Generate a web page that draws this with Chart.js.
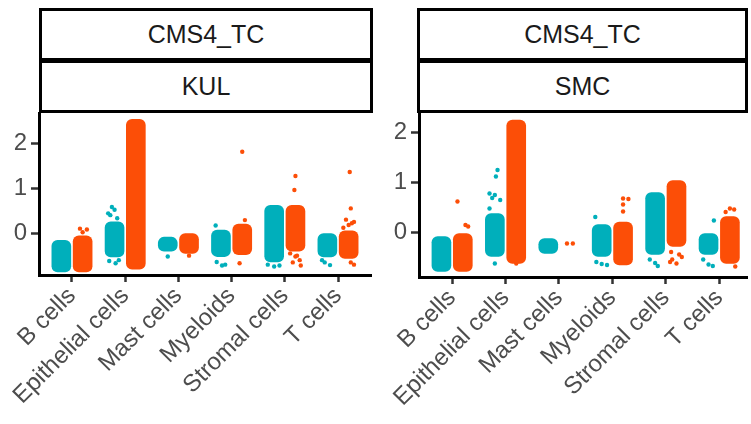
<!DOCTYPE html>
<html>
<head>
<meta charset="utf-8">
<script src="https://cdn.jsdelivr.net/npm/chart.js@4"></script>
<style>
  body { margin: 0; background: #fff; }
  #wrap { position: relative; width: 751px; height: 424px; overflow: hidden; }
  .panel { position: absolute; top: 0; height: 424px; }
  .strip {
    position: absolute; box-sizing: border-box; border: 3px solid #000; background: #fff;
    display: flex; align-items: center; justify-content: center;
    font-family: "Liberation Sans", Arial, sans-serif; font-size: 25px; color: #1a1a1a;
  }
</style>
</head>
<body>
<div id="wrap">
  <div class="panel" style="left:0;width:375px"><canvas id="kul" width="375" height="424"></canvas></div>
  <div class="panel" style="left:375px;width:376px"><canvas id="smc" width="376" height="424"></canvas></div>
  <div class="strip" style="left:39px;top:8px;width:334px;height:53px">CMS4_TC</div>
  <div class="strip" style="left:39px;top:60px;width:334px;height:53px">KUL</div>
  <div class="strip" style="left:417px;top:8px;width:331px;height:53px">CMS4_TC</div>
  <div class="strip" style="left:417px;top:60px;width:331px;height:53px">SMC</div>
</div>
<script>
const cellTypes = ['B cells', 'Epithelial cells', 'Mast cells', 'Myeloids', 'Stromal cells', 'T cells'];
const yTickValues = [0, 1, 2];

// dense part of each jitter cloud (low / high)
const kulTealLow    = [-0.86, -0.53, -0.40, -0.52, -0.64, -0.53];
const kulTealHigh   = [-0.16,  0.25, -0.09,  0.07,  0.62,  0.00];
const kulOrangeLow  = [-0.86, -0.80, -0.45, -0.48, -0.40, -0.56];
const kulOrangeHigh = [-0.06,  2.53,  0.00,  0.20,  0.62,  0.05];

const smcTealLow    = [-0.79, -0.49, -0.43, -0.49, -0.45, -0.45];
const smcTealHigh   = [-0.09,  0.37, -0.13,  0.15,  0.79, -0.03];
const smcOrangeLow  = [-0.79, -0.63,  null, -0.66, -0.29, -0.63];
const smcOrangeHigh = [-0.03,  2.24,  null,  0.20,  1.03,  0.31];

// scattered points outside the dense part: [category, jitter, value]
const kulTealOut = [
  [1, -0.05, 0.58], [1, 0.00, 0.52], [1, -0.12, 0.44], [1, -0.08, 0.40], [1, 0.05, 0.33],
  [1, -0.10, -0.62], [1, 0.02, -0.67], [1, 0.08, -0.60],
  [2, 0.00, -0.52],
  [3, -0.10, 0.17], [3, -0.08, -0.64], [3, 0.02, -0.72], [3, 0.08, -0.70],
  [4, -0.12, -0.70], [4, 0.00, -0.74], [4, 0.10, -0.72],
  [5, -0.05, -0.65], [5, 0.05, -0.71], [5, -0.10, -0.60]
];
const kulOrangeOut = [
  [0, -0.05, 0.10], [0, 0.08, 0.08], [0, 0.00, 0.02],
  [2, 0.00, -0.50],
  [3, 0.00, 1.81], [3, 0.05, 0.29], [3, -0.05, -0.67],
  [4, 0.00, 1.27], [4, -0.02, 0.96], [4, -0.10, -0.45], [4, 0.00, -0.52], [4, 0.08, -0.60],
  [4, -0.05, -0.65], [4, 0.10, -0.72], [4, 0.03, -0.50],
  [5, 0.02, 1.36], [5, 0.04, 0.55], [5, 0.10, 0.25], [5, -0.05, 0.30], [5, 0.00, 0.18],
  [5, -0.10, 0.12], [5, 0.06, 0.22], [5, 0.10, -0.70], [5, 0.04, -0.65]
];
const smcTealOut = [
  [1, -0.10, 0.77], [1, 0.00, 0.74], [1, -0.05, 0.68], [1, 0.10, 0.64], [1, 0.05, 1.24],
  [1, 0.02, 1.11], [1, -0.10, 0.47], [1, 0.00, -0.63],
  [3, -0.12, 0.30], [3, -0.10, -0.60], [3, 0.00, -0.64], [3, 0.10, -0.66],
  [4, -0.10, -0.55], [4, 0.00, -0.62], [4, 0.05, -0.68],
  [5, 0.10, 0.23], [5, -0.10, -0.55], [5, 0.00, -0.65], [5, 0.08, -0.68]
];
const smcOrangeOut = [
  [0, -0.10, 0.61], [0, 0.05, 0.14], [0, 0.10, 0.11],
  [1, 0.00, -0.63],
  [2, -0.05, -0.23], [2, 0.06, -0.23],
  [3, 0.00, 0.67], [3, 0.10, 0.66], [3, 0.00, 0.41], [3, 0.00, 0.55],
  [4, -0.10, -0.40], [4, 0.05, -0.45], [4, -0.08, -0.55], [4, 0.10, -0.50], [4, 0.00, -0.63], [4, -0.12, -0.60],
  [5, 0.00, 0.47], [5, 0.08, 0.45], [5, -0.08, 0.40], [5, 0.10, -0.69]
];

const teal = '#00AFBB';
const orange = '#FC4E07';
const dodge = 0.2;

function cloud(low, high, shift, color) {
  const data = [];
  low.forEach((lo, i) => {
    if (lo !== null) data.push({ x: i + shift, y: [lo, high[i]] });
  });
  return {
    type: 'bar', data: data, backgroundColor: color, barThickness: 19,
    borderRadius: 6, borderSkipped: false, grouped: false
  };
}

function dots(list, shift, color) {
  return {
    type: 'scatter',
    data: list.map(p => ({ x: p[0] + shift + p[1], y: p[2] })),
    backgroundColor: color, borderWidth: 0, pointRadius: 2.2
  };
}

function makePanel(id, o) {
  new Chart(document.getElementById(id), {
    type: 'bar',
    data: {
      datasets: [
        cloud(o.tealLow, o.tealHigh, -dodge, teal),
        cloud(o.orangeLow, o.orangeHigh, dodge, orange),
        dots(o.tealOut, -dodge, teal),
        dots(o.orangeOut, dodge, orange)
      ]
    },
    options: {
      responsive: false,
      animation: false,
      devicePixelRatio: 1,
      layout: { padding: { top: 113, right: o.padRight, left: 0, bottom: 0 } },
      plugins: { legend: { display: false }, tooltip: { enabled: false } },
      scales: {
        x: {
          type: 'linear', min: -0.62, max: o.xMax, offset: false,
          afterBuildTicks: s => { s.ticks = cellTypes.map((c, i) => ({ value: i })); },
          afterFit: s => { s.height = o.xHeight; },
          grid: { offset: false, drawOnChartArea: false, tickLength: 7, tickWidth: 2.5, tickColor: '#333' },
          border: { color: '#000', width: 3 },
          ticks: {
            minRotation: 45, maxRotation: 45, padding: 0, color: '#4d4d4d',
            font: { family: 'Liberation Sans', size: 24 },
            callback: v => cellTypes[v]
          }
        },
        y: {
          min: o.yMin, max: o.yMax,
          afterBuildTicks: s => { s.ticks = yTickValues.map(v => ({ value: v })); },
          afterFit: s => { s.width = o.yWidth; },
          grid: { drawOnChartArea: false, tickLength: 8, tickWidth: 2.5, tickColor: '#333' },
          border: { color: '#000', width: 3 },
          ticks: { padding: 4, color: '#4d4d4d', font: { family: 'Liberation Sans', size: 24 } }
        }
      }
    }
  });
}

makePanel('kul', {
  tealLow: kulTealLow, tealHigh: kulTealHigh, orangeLow: kulOrangeLow, orangeHigh: kulOrangeHigh,
  tealOut: kulTealOut, orangeOut: kulOrangeOut,
  yMin: -0.93, yMax: 2.67, xMax: 5.62, yWidth: 39, xHeight: 149, padRight: 3
});
makePanel('smc', {
  tealLow: smcTealLow, tealHigh: smcTealHigh, orangeLow: smcOrangeLow, orangeHigh: smcOrangeHigh,
  tealOut: smcTealOut, orangeOut: smcOrangeOut,
  yMin: -0.9, yMax: 2.38, xMax: 5.52, yWidth: 44, xHeight: 147, padRight: 3
});
</script>
</body>
</html>
